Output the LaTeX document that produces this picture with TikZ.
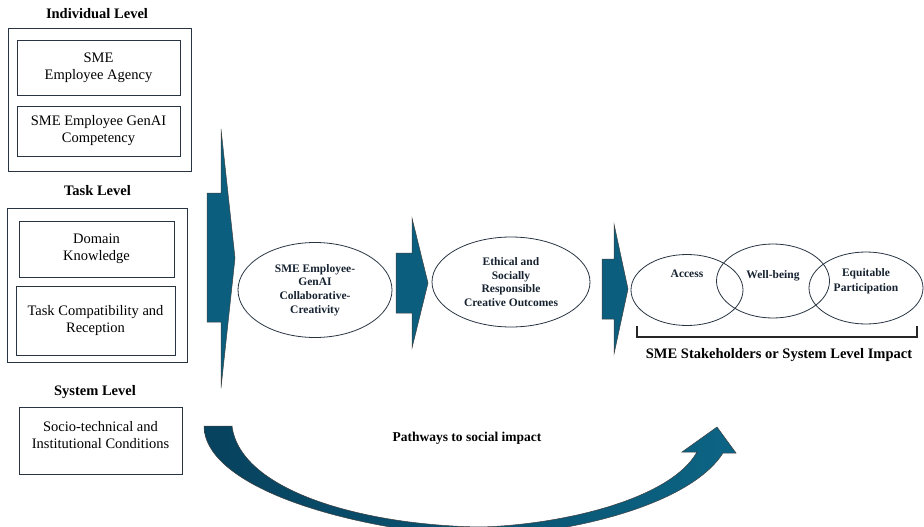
\documentclass[tikz,border=0pt]{standalone}
\usepackage{fontspec}
\setmainfont{Liberation Serif}
\usetikzlibrary{shapes.geometric}
\usepackage{xcolor}

\definecolor{arrowteal}{RGB}{11,94,125}
\definecolor{curvedark}{RGB}{7,66,94}
\definecolor{curvelight}{RGB}{12,100,132}
\definecolor{boxline}{RGB}{40,52,66}
\definecolor{ovaltext}{RGB}{22,34,48}

\begin{document}
\begin{tikzpicture}[
    x=1pt, y=-1pt,
    outerbox/.style={draw=boxline, line width=0.9pt, inner sep=0pt},
    inner/.style={draw=boxline, line width=0.8pt, inner sep=0pt, align=center, font=\fontsize{14.5}{17}\selectfont},
    levelhead/.style={font=\bfseries\fontsize{14.5}{17}\selectfont},
    oval/.style={ellipse, draw=boxline, line width=0.8pt, inner sep=0pt, align=center, text=ovaltext, font=\bfseries\fontsize{11.5}{13.6}\selectfont},
    ovallbl/.style={align=center, text=ovaltext, font=\bfseries\fontsize{11.5}{14.5}\selectfont},
    blockarrow/.style={fill=arrowteal, draw=black!75, line width=0.5pt, line join=miter}
]
\useasboundingbox (0,0) rectangle (924,527);

% individual level
\node[levelhead] (indhead) at (97,14) {Individual Level};
\node[outerbox, minimum width=183pt, minimum height=143pt] (ind) at (99.5,99.5) {};
\node[inner, minimum width=163pt, minimum height=55pt] (agency) at (98.5,67.5) {SME\\Employee Agency};
\node[inner, minimum width=163pt, minimum height=50pt] (compet) at (98.5,131) {SME Employee GenAI\\Competency};

% task level
\node[levelhead] (taskhead) at (97.5,191) {Task Level};
\node[outerbox, minimum width=180pt, minimum height=154pt] (task) at (97,285) {};
\node[inner, minimum width=155pt, minimum height=56pt] (domain) at (96.5,249) {Domain\\Knowledge};
\node[inner, minimum width=159pt, minimum height=69pt] (compat) at (95.5,320.5) {Task Compatibility and\\Reception};

% system level
\node[levelhead] (syshead) at (95,392) {System Level};
\node[draw=boxline, line width=0.8pt, minimum width=163pt, minimum height=67pt] (sys) at (100.5,440.5) {};
\node[align=center, font=\fontsize{14.5}{17}\selectfont] (systxt) at ([yshift=5pt]sys.center) {Socio-technical and\\Institutional Conditions};

% block arrows
\filldraw[blockarrow] (207,193) -- (221,193) -- (221,129) -- (235,258) -- (221,388) -- (221,322) -- (207,322) -- cycle;
\filldraw[blockarrow] (396,253) -- (412,253) -- (412,218) -- (428,283) -- (412,348) -- (412,313) -- (396,313) -- cycle;
\filldraw[blockarrow] (602,259) -- (614,259) -- (614,224) -- (628,289) -- (614,354) -- (614,319) -- (602,319) -- cycle;

% outcomes
\node[oval, minimum width=154pt, minimum height=95pt] (collab) at (315,290) {SME Employee-\\GenAI\\Collaborative-\\Creativity};
\node[oval, minimum width=158pt, minimum height=90pt] (ethical) at (511,282) {Ethical and\\Socially\\Responsible\\Creative Outcomes};

% impact circles
\node[oval, minimum width=112pt, minimum height=71pt] (access) at (687,290) {};
\node[oval, minimum width=113pt, minimum height=74pt] (wellbeing) at (773,281) {};
\node[oval, minimum width=114pt, minimum height=72pt] (equit) at (866,288) {};
\node[ovallbl] (accesslbl) at (687,274) {Access};
\node[ovallbl] (welllbl) at (773,276) {Well-being};
\node[ovallbl] (equitlbl) at (866,281) {Equitable\\Participation};

\draw[line width=2pt, black!85] (637,326) -- (637,337) -- (917,337) -- (917,326);
\node[levelhead] (impact) at (779,355) {SME Stakeholders or System Level Impact};

% pathway arrow along the bottom
\node[levelhead, font=\bfseries\fontsize{13.5}{16}\selectfont] (pathway) at (467,438) {Pathways to social impact};
\begin{scope}
\clip (0,0) rectangle (924,527);
\shadedraw[left color=curvedark, right color=curvelight, draw=black!75, line width=0.5pt]
    (204,426) .. controls (204,480) and (320,525) .. (470,537)
    .. controls (570,535) and (690,505) .. (723,453)
    -- (736,453) -- (717,427) -- (682,452) -- (697,452)
    .. controls (670,500) and (560,525) .. (480,527)
    .. controls (360,525) and (240,490) .. (232,426) -- cycle;
\end{scope}

\end{tikzpicture}
\end{document}
